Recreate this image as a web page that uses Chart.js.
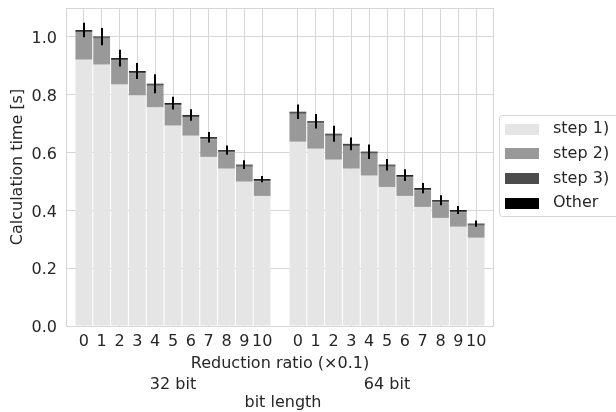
<!DOCTYPE html>
<html>
<head>
<meta charset="utf-8">
<script src="https://cdn.jsdelivr.net/npm/chart.js@4.4.1/dist/chart.umd.min.js"></script>
<style>
  html, body { margin: 0; padding: 0; background: #fff; }
</style>
</head>
<body>
<canvas id="chart" width="616" height="412"></canvas>
<script>
// Chart data
const ratios = ['0', '1', '2', '3', '4', '5', '6', '7', '8', '9', '10'];
const bitLengths = ['32 bit', '64 bit'];
const yTicks = [0.0, 0.2, 0.4, 0.6, 0.8, 1.0];

const step1_32 = [0.921, 0.904, 0.835, 0.797, 0.756, 0.693, 0.658, 0.585, 0.544, 0.499, 0.450];
const step2_32 = [0.096, 0.090, 0.085, 0.078, 0.075, 0.071, 0.065, 0.061, 0.057, 0.052, 0.051];
const step3_32 = [0.004, 0.004, 0.004, 0.004, 0.004, 0.004, 0.004, 0.004, 0.004, 0.004, 0.004];
const other_32 = [0.003, 0.003, 0.003, 0.003, 0.003, 0.003, 0.003, 0.003, 0.003, 0.003, 0.003];
const err_32   = [0.025, 0.030, 0.029, 0.028, 0.033, 0.022, 0.020, 0.018, 0.016, 0.015, 0.011];

const step1_64 = [0.637, 0.613, 0.575, 0.544, 0.520, 0.481, 0.450, 0.412, 0.374, 0.343, 0.305];
const step2_64 = [0.097, 0.088, 0.083, 0.079, 0.076, 0.070, 0.065, 0.058, 0.054, 0.051, 0.042];
const step3_64 = [0.004, 0.004, 0.004, 0.004, 0.004, 0.004, 0.004, 0.004, 0.004, 0.004, 0.004];
const other_64 = [0.003, 0.003, 0.003, 0.003, 0.003, 0.003, 0.003, 0.003, 0.003, 0.003, 0.003];
const err_64   = [0.025, 0.025, 0.028, 0.022, 0.025, 0.020, 0.020, 0.018, 0.017, 0.014, 0.011];

const seriesNames = ['step 1)', 'step 2)', 'step 3)', 'Other'];
const seriesColors = ['#e5e5e5', '#999999', '#4c4c4c', '#000000'];

// x positions: group 1 at 0..10, gap at 11, group 2 at 12..22
const groupGap = ratios.length + 1;
const pos32 = ratios.map((r, i) => i);
const pos64 = ratios.map((r, i) => i + groupGap);
const allPos = pos32.concat(pos64);

const toPoints = (a, b) => pos32.map((x, i) => ({ x, y: a[i] }))
  .concat(pos64.map((x, i) => ({ x, y: b[i] })));

const stacks = [
  toPoints(step1_32, step1_64),
  toPoints(step2_32, step2_64),
  toPoints(step3_32, step3_64),
  toPoints(other_32, other_64)
];
const errors = err_32.concat(err_64);

const textColor = '#262626';
const gridColor = '#d6d6d6';
Chart.defaults.font.family = "'DejaVu Sans', sans-serif";
Chart.defaults.font.size = 16;
Chart.defaults.color = textColor;

// error bars, frame, axis titles and legend
const extras = {
  id: 'extras',
  beforeDatasetsDraw(chart) {
    const { ctx, chartArea: a } = chart;
    ctx.save();
    ctx.strokeStyle = gridColor;
    ctx.lineWidth = 1;
    ctx.strokeRect(a.left + 0.5, a.top + 0.5, a.right - a.left - 1, a.bottom - a.top);
    ctx.restore();
  },
  afterDatasetsDraw(chart) {
    const { ctx, scales } = chart;
    const x = scales.x, y = scales.y;
    ctx.save();
    ctx.strokeStyle = '#000';
    ctx.lineWidth = 2;
    allPos.forEach((p, i) => {
      const total = stacks.reduce((s, d) => s + d[i].y, 0);
      const px = Math.round(x.getPixelForValue(p));
      ctx.beginPath();
      ctx.moveTo(px, y.getPixelForValue(total + errors[i]));
      ctx.lineTo(px, y.getPixelForValue(total - errors[i]));
      ctx.stroke();
    });
    ctx.restore();
  },
  afterDraw(chart) {
    const { ctx, chartArea: a, scales } = chart;
    const cx = (a.left + a.right) / 2;
    ctx.save();
    ctx.fillStyle = textColor;
    ctx.font = "16px 'DejaVu Sans', sans-serif";
    ctx.textAlign = 'center';
    ctx.textBaseline = 'alphabetic';
    ctx.fillText('Reduction ratio (\u00d70.1)', cx, 368);
    ctx.fillText(bitLengths[0], scales.x.getPixelForValue((pos32[0] + pos32[pos32.length - 1]) / 2), 389);
    ctx.fillText(bitLengths[1], scales.x.getPixelForValue((pos64[0] + pos64[pos64.length - 1]) / 2), 389);
    ctx.fillText('bit length', cx + 3, 407);

    ctx.translate(18, (a.top + a.bottom) / 2);
    ctx.rotate(-Math.PI / 2);
    ctx.textBaseline = 'middle';
    ctx.fillText('Calculation time [s]', 0, 0);
    ctx.restore();

    // legend
    ctx.save();
    const lx = 499, ly = 115, lw = 130, lh = 101;
    ctx.fillStyle = '#fff';
    ctx.strokeStyle = gridColor;
    ctx.lineWidth = 1;
    ctx.beginPath();
    ctx.roundRect(lx + 0.5, ly + 0.5, lw, lh, 3);
    ctx.fill();
    ctx.stroke();
    ctx.font = "16px 'DejaVu Sans', sans-serif";
    ctx.textBaseline = 'middle';
    ctx.textAlign = 'left';
    seriesNames.forEach((name, i) => {
      const cy = 129 + i * 24.7;
      ctx.fillStyle = seriesColors[i];
      ctx.fillRect(505, Math.round(cy - 5.5), 34, 11);
      ctx.fillStyle = textColor;
      ctx.fillText(name, 553, cy);
    });
    ctx.restore();
  }
};

new Chart(document.getElementById('chart'), {
  type: 'bar',
  data: {
    datasets: seriesNames.map((name, i) => ({
      label: name,
      data: stacks[i],
      backgroundColor: seriesColors[i],
      borderWidth: 0,
      barPercentage: 0.94,
      categoryPercentage: 1.0
    }))
  },
  options: {
    responsive: false,
    animation: false,
    devicePixelRatio: 1,
    layout: { padding: { top: 8, right: 122, left: 0, bottom: 0 } },
    plugins: {
      legend: { display: false },
      tooltip: { enabled: false }
    },
    scales: {
      x: {
        type: 'linear',
        stacked: true,
        offset: false,
        min: -1,
        max: allPos[allPos.length - 1] + 1,
        afterBuildTicks: (axis) => { axis.ticks = allPos.map(v => ({ value: v })); },
        afterFit: (axis) => {
          axis.height = 86;
          axis.paddingLeft = 0;
          axis.paddingRight = 0;
        },
        ticks: {
          autoSkip: false,
          maxRotation: 0,
          padding: 6,
          color: textColor,
          callback: (v) => ratios[v < groupGap ? v : v - groupGap]
        },
        grid: { color: gridColor, drawTicks: false, offset: false },
        border: { display: false }
      },
      y: {
        stacked: true,
        min: 0,
        max: 1.1,
        afterBuildTicks: (axis) => { axis.ticks = yTicks.map(v => ({ value: v })); },
        afterFit: (axis) => {
          axis.width = 66;
          axis.paddingTop = 0;
          axis.paddingBottom = 0;
        },
        ticks: {
          padding: 9,
          labelOffset: 2,
          color: textColor,
          callback: (v) => v.toFixed(1)
        },
        grid: { color: gridColor, drawTicks: false },
        border: { display: false }
      }
    }
  },
  plugins: [extras]
});
</script>
</body>
</html>
